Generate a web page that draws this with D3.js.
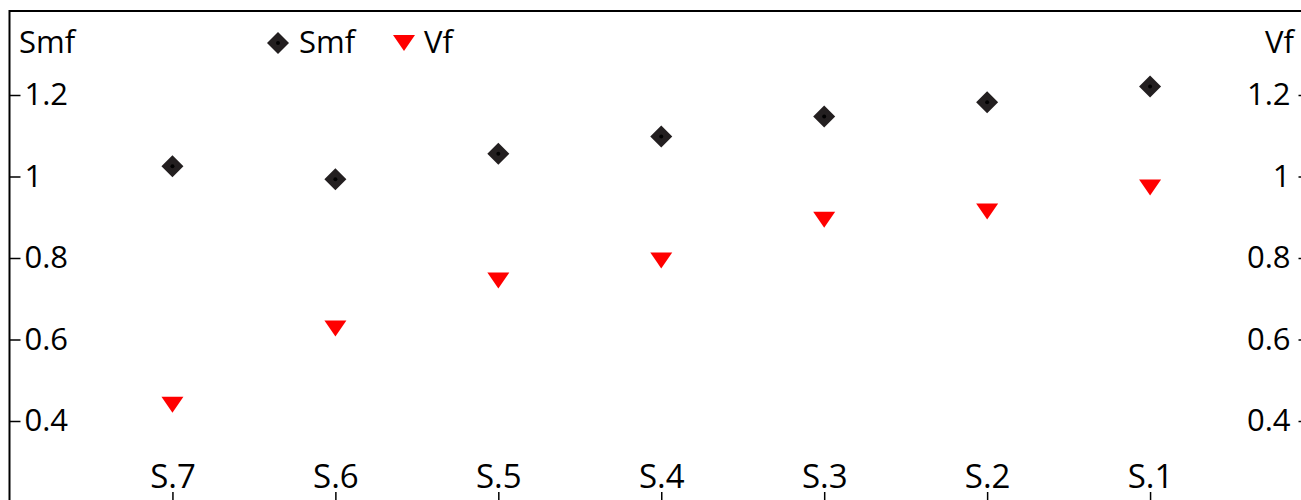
<!DOCTYPE html>
<html><head><meta charset="utf-8">
<script src="https://cdn.jsdelivr.net/npm/d3@7"></script>
<style>html,body{margin:0;padding:0;background:#fff;overflow:hidden}</style>
</head><body>
<script>
const categories = ["S.7","S.6","S.5","S.4","S.3","S.2","S.1"];
const smfValues = [1.025, 0.993, 1.056, 1.098, 1.147, 1.182, 1.221];
const vfValues  = [0.44, 0.627, 0.745, 0.794, 0.894, 0.914, 0.973];
const yTicks = [0.4, 0.6, 0.8, 1, 1.2];
const seriesNames = ["Smf", "Vf"];

(function () {
const W = 1301, H = 500;
const FONT = "'Open Sans', sans-serif";
const svg = d3.select("body").append("svg").attr("width", W).attr("height", H)
  .style("font-family", FONT);

const pLeft = 9.5, pRight = 1313, pTop = 11, pBottom = 504;
const x = d3.scaleLinear().domain([0, categories.length + 1]).range([pLeft, pRight]);
const yS = d3.scaleLinear().domain([0.4, 1.2]).range([421, 95]);

svg.append("rect").attr("x", pLeft).attr("y", pTop).attr("width", pRight - pLeft).attr("height", pBottom - pTop)
  .attr("fill", "none").attr("stroke", "#000").attr("stroke-width", 2);

const fs = 31, fx = 33;
const la = svg.append("g").attr("transform", `translate(${pLeft},0)`)
  .call(d3.axisRight(yS).tickValues(yTicks).tickFormat(d3.format("~g")).tickSize(11).tickPadding(4));
la.select(".domain").remove();
la.selectAll("line").attr("stroke-width", 1.5);
la.selectAll("text").attr("font-size", fs).attr("fill", "#000").attr("font-family", FONT);

const ra = svg.append("g").attr("transform", `translate(${pRight},0)`)
  .call(d3.axisLeft(yS).tickValues(yTicks).tickFormat(d3.format("~g")).tickSize(14.5).tickPadding(8));
ra.select(".domain").remove();
ra.selectAll("line").attr("stroke-width", 1.5);
ra.selectAll("text").attr("font-size", fs).attr("fill", "#000").attr("font-family", FONT);

const xa = svg.append("g").attr("transform", `translate(0,${pBottom})`)
  .call(d3.axisTop(x).tickValues(d3.range(1, categories.length + 1))
    .tickFormat((d) => categories[d - 1]).tickSize(12).tickPadding(4));
xa.select(".domain").remove();
xa.selectAll("line").attr("stroke-width", 1.5);
xa.selectAll("text").attr("font-size", fx).attr("fill", "#000").attr("font-family", FONT);

svg.append("text").attr("x", 19).attr("y", 53).attr("font-size", fs).text(seriesNames[0]);
svg.append("text").attr("x", 1294).attr("y", 53).attr("text-anchor", "end").attr("font-size", fs).text(seriesNames[1]);

const diamond = "M0,-11L11,0L0,11L-11,0Z";
const tri = "M-11,-8L11,-8L0,8Z";

function drawDiamond(g, cx, cy) {
  g.append("path").attr("d", diamond).attr("transform", `translate(${cx},${cy})`).attr("fill", "#231f20");
  g.append("circle").attr("cx", cx).attr("cy", cy).attr("r", 2).attr("fill", "#000");
}

const gS = svg.append("g");
smfValues.forEach((v, i) => drawDiamond(gS, x(i + 1), yS(v)));
svg.append("g").selectAll("path").data(vfValues).join("path")
  .attr("d", tri).attr("fill", "#ff0000")
  .attr("transform", (d, i) => `translate(${x(i + 1)},${yS(d)})`);

drawDiamond(svg.append("g"), 278, 43);
svg.append("text").attr("x", 299).attr("y", 53).attr("font-size", fs).text(seriesNames[0]);
svg.append("path").attr("d", tri).attr("fill", "#ff0000").attr("transform", "translate(404,43)");
svg.append("text").attr("x", 424).attr("y", 53).attr("font-size", fs).text(seriesNames[1]);
})();
</script>
</body></html>
